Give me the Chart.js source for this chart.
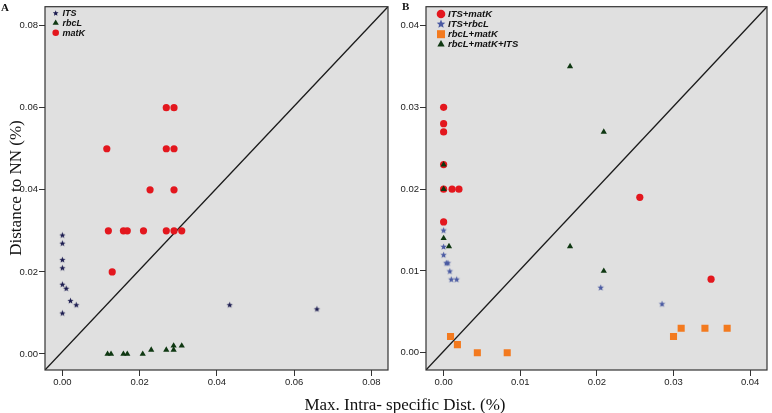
<!DOCTYPE html>
<html><head><meta charset="utf-8">
<script src="https://cdn.jsdelivr.net/npm/chart.js@4/dist/chart.umd.min.js"></script>
<style>
html,body{margin:0;padding:0;background:#fff;}
#wrap{position:relative;width:772px;height:413px;overflow:hidden;background:#fff;}
canvas{position:absolute;top:0;}
.lbl{position:absolute;font-family:'Liberation Serif','Times New Roman',serif;color:#111;white-space:nowrap;}
</style></head><body>
<div id="wrap">
<canvas id="cA" width="395" height="413" style="left:0px"></canvas>
<canvas id="cB" width="377" height="413" style="left:395px"></canvas>
<div class="lbl" style="left:1px;top:2px;font-size:11px;line-height:11px;font-weight:bold;">A</div>
<div class="lbl" style="left:402px;top:1px;font-size:11px;line-height:11px;font-weight:bold;">B</div>
<div class="lbl" style="left:-84px;top:178px;width:200px;height:20px;line-height:20px;font-size:17px;text-align:center;transform:rotate(-90deg);">Distance to NN (%)</div>
<div class="lbl" style="left:205px;top:396px;width:400px;line-height:17px;font-size:17px;text-align:center;">Max. Intra- specific Dist. (%)</div>
</div>
<script>
// ---------- Panel A data ----------
const itsA_x  = [0, 0, 0, 0, 0, 0.0010, 0.0021, 0.0036, 0, 0.0433, 0.0659];
const itsA_y  = [0.029, 0.027, 0.023, 0.021, 0.017, 0.016, 0.013, 0.012, 0.010, 0.012, 0.011];
const rbcLA_x = [0.0117, 0.0126, 0.0158, 0.0168, 0.0208, 0.0230, 0.0269, 0.0288, 0.0288, 0.0309];
const rbcLA_y = [0, 0, 0, 0, 0, 0.001, 0.001, 0.002, 0.001, 0.002];
const matKA_x = [0.0269, 0.0289, 0.0115, 0.0269, 0.0289, 0.0227, 0.0289, 0.0119, 0.0158, 0.0168, 0.0210, 0.0269, 0.0289, 0.0309, 0.0129];
const matKA_y = [0.060, 0.060, 0.050, 0.050, 0.050, 0.040, 0.040, 0.030, 0.030, 0.030, 0.030, 0.030, 0.030, 0.030, 0.020];
const ticksA  = [0, 0.02, 0.04, 0.06, 0.08];
const labelsA = ['ITS', 'rbcL', 'matK'];

// ---------- Panel B data ----------
const itsMatK_x  = [0, 0, 0, 0, 0, 0.0011, 0.0020, 0, 0.0256, 0.0349];
const itsMatK_y  = [0.030, 0.028, 0.027, 0.023, 0.020, 0.020, 0.020, 0.016, 0.019, 0.009];
const itsRbcL_x  = [0, 0, 0, 0, 0.00035, 0.00056, 0.0008, 0.0010, 0.0017, 0.0205, 0.0285];
const itsRbcL_y  = [0.016, 0.015, 0.013, 0.012, 0.011, 0.011, 0.010, 0.009, 0.009, 0.008, 0.006];
const rbcLMatK_x = [0.0009, 0.0018, 0.0044, 0.0083, 0.0300, 0.0310, 0.0341, 0.0370];
const rbcLMatK_y = [0.002, 0.001, 0, 0, 0.002, 0.003, 0.003, 0.003];
const all3_x     = [0, 0, 0, 0.0007, 0.0165, 0.0209, 0.0165, 0.0209];
const all3_y     = [0.023, 0.020, 0.014, 0.013, 0.035, 0.027, 0.013, 0.010];
const ticksB  = [0, 0.01, 0.02, 0.03, 0.04];
const labelsB = ['ITS+matK', 'ITS+rbcL', 'rbcL+matK', 'rbcL+matK+ITS'];

// ---------- styles ----------
const RED = '#e3171e', NAVY = '#1c1c50', GREEN = '#0f3812', ORANGE = '#f37a1f', BLUE = '#4a5aa2';
const SANS = "'Liberation Sans',Arial,sans-serif";
const TICKFONT = {family: SANS, size: 9.5};

function starPath(g, cx, cy, R, r) {
  g.beginPath();
  for (let i = 0; i < 10; i++) {
    const a = -Math.PI / 2 + i * Math.PI / 5;
    const rr = i % 2 === 0 ? R : r;
    const px = cx + Math.cos(a) * rr, py = cy + Math.sin(a) * rr;
    if (i === 0) g.moveTo(px, py); else g.lineTo(px, py);
  }
  g.closePath();
}
function makeStar(R, r, fill) {
  const s = Math.ceil(R * 2 + 2);
  const c = document.createElement('canvas'); c.width = s; c.height = s;
  const g = c.getContext('2d');
  starPath(g, s / 2, s / 2 + 0.4, R, r);
  g.fillStyle = fill; g.fill();
  return c;
}
function pts(xs, ys) { return xs.map((x, i) => ({x: x, y: ys[i]})); }

function drawMarker(ctx, style, color, x, y, size) {
  ctx.save();
  ctx.fillStyle = color;
  if (style === 'circle') { ctx.beginPath(); ctx.arc(x, y, size, 0, Math.PI * 2); ctx.fill(); }
  else if (style === 'rect') { ctx.fillRect(x - size, y - size, size * 2, size * 2); }
  else if (style === 'triangle') {
    ctx.beginPath();
    ctx.moveTo(x, y - size); ctx.lineTo(x + size * 0.866, y + size * 0.5); ctx.lineTo(x - size * 0.866, y + size * 0.5);
    ctx.closePath(); ctx.fill();
  } else if (style === 'star') { starPath(ctx, x, y, size, size * 0.45); ctx.fill(); }
  ctx.restore();
}

function boxPlugin(legend) {
  return {
    id: 'box',
    beforeDatasetsDraw(chart) {
      const a = chart.chartArea, ctx = chart.ctx;
      ctx.save(); ctx.fillStyle = '#e0e0e0';
      ctx.fillRect(a.left, a.top, a.right - a.left, a.bottom - a.top);
      ctx.restore();
    },
    afterDraw(chart) {
      const a = chart.chartArea, ctx = chart.ctx;
      ctx.save(); ctx.strokeStyle = '#333'; ctx.lineWidth = 1.2;
      ctx.strokeRect(a.left, a.top, a.right - a.left, a.bottom - a.top);
      ctx.restore();
      ctx.save();
      ctx.font = 'italic bold ' + legend.font + 'px ' + SANS;
      ctx.fillStyle = '#111'; ctx.textBaseline = 'middle';
      legend.items.forEach((it, i) => {
        const y = legend.y0 + i * legend.dy;
        drawMarker(ctx, it.style, it.color, legend.mx, y, it.size);
        ctx.fillStyle = '#111';
        ctx.fillText(it.label, legend.tx, y + 0.5);
      });
      ctx.restore();
    }
  };
}

function makeChart(id, datasets, range, ticks, yWidth, padRight, legend) {
  const axis = (r, isX) => ({
    type: 'linear', min: r.min, max: r.max,
    afterBuildTicks: s => { s.ticks = ticks.map(v => ({value: v})); },
    afterFit: s => { if (isX) s.height = 43; else s.width = yWidth; },
    ticks: {callback: v => Number(v).toFixed(2), font: TICKFONT, color: '#222', padding: 1, autoSkip: false, maxRotation: 0},
    grid: {drawOnChartArea: false, drawTicks: true, tickLength: 6, color: '#333', lineWidth: 1},
    border: {display: false}
  });
  datasets.push({
    data: [{x: range.x.min, y: range.y.min}, {x: range.x.max, y: range.y.max}],
    showLine: true, borderColor: '#1a1a1a', borderWidth: 1.3, pointRadius: 0, order: 10
  });
  return new Chart(document.getElementById(id), {
    type: 'scatter',
    data: {datasets: datasets},
    options: {
      responsive: false, animation: false, devicePixelRatio: 1,
      layout: {padding: {left: 0, right: padRight, top: 5, bottom: 0}},
      plugins: {legend: {display: false}, tooltip: {enabled: false}, title: {display: false}},
      scales: {x: axis(range.x, true), y: axis(range.y, false)}
    },
    plugins: [boxPlugin(legend)]
  });
}

const starA = makeStar(3.3, 1.4, NAVY);
const starB = makeStar(3.4, 1.5, BLUE);

makeChart('cA', [
  {label: labelsA[0], data: pts(itsA_x, itsA_y), pointStyle: starA, order: 3},
  {label: labelsA[1], data: pts(rbcLA_x, rbcLA_y), pointStyle: 'triangle', pointRadius: 3.6, backgroundColor: GREEN, borderColor: GREEN, borderWidth: 0, order: 2},
  {label: labelsA[2], data: pts(matKA_x, matKA_y), pointStyle: 'circle', pointRadius: 3.6, backgroundColor: RED, borderColor: RED, borderWidth: 0, order: 1}
], {x: {min: -0.0045, max: 0.0843}, y: {min: -0.0039, max: 0.0846}}, ticksA, 45, 7, {
  font: 9, y0: 13.3, dy: 9.7, mx: 55.7, tx: 62.5,
  items: [
    {label: labelsA[0], style: 'star', color: NAVY, size: 3},
    {label: labelsA[1], style: 'triangle', color: GREEN, size: 3.6},
    {label: labelsA[2], style: 'circle', color: RED, size: 3.3}
  ]
});

makeChart('cB', [
  {label: labelsB[3], data: pts(all3_x, all3_y), pointStyle: 'triangle', pointRadius: 3.6, backgroundColor: GREEN, borderColor: GREEN, borderWidth: 0, order: 0},
  {label: labelsB[0], data: pts(itsMatK_x, itsMatK_y), pointStyle: 'circle', pointRadius: 3.6, backgroundColor: RED, borderColor: RED, borderWidth: 0, order: 1},
  {label: labelsB[1], data: pts(itsRbcL_x, itsRbcL_y), pointStyle: starB, order: 2},
  {label: labelsB[2], data: pts(rbcLMatK_x, rbcLMatK_y), pointStyle: 'rect', pointRadius: 5, backgroundColor: ORANGE, borderColor: ORANGE, borderWidth: 0, order: 3}
], {x: {min: -0.0023, max: 0.0422}, y: {min: -0.0021, max: 0.0423}}, ticksB, 31, 2, {
  font: 9.5, y0: 14, dy: 10.1, mx: 46, tx: 53,
  items: [
    {label: labelsB[0], style: 'circle', color: RED, size: 4.3},
    {label: labelsB[1], style: 'star', color: BLUE, size: 4.5},
    {label: labelsB[2], style: 'rect', color: ORANGE, size: 4},
    {label: labelsB[3], style: 'triangle', color: GREEN, size: 4.2}
  ]
});
</script>
</body></html>
